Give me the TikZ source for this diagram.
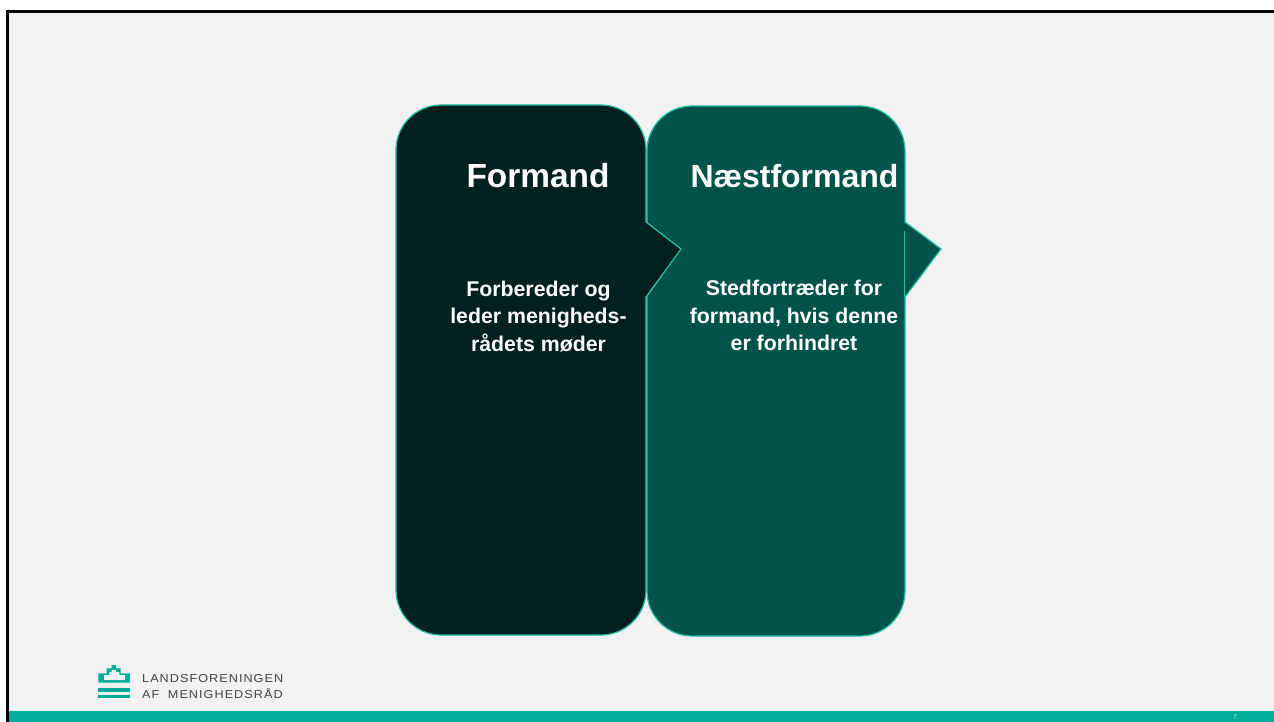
\documentclass[tikz,border=0pt]{standalone}
\usepackage{fontspec}
\setmainfont{Liberation Sans}
\newfontfamily\logofont[LetterSpace=9,FakeStretch=1.1]{Liberation Sans}
\definecolor{pagebg}{HTML}{F2F2F2}
\definecolor{teal}{HTML}{00AB97}
\definecolor{darkbox}{HTML}{01211E}
\definecolor{midbox}{HTML}{015249}
\definecolor{edgeline}{HTML}{1FBFA8}
\definecolor{logotext}{HTML}{404040}
\tikzset{
  titletext/.style={text=white,font=\bfseries\fontsize{32}{36}\selectfont,inner sep=0pt},
  bodytext/.style={text=white,font=\bfseries\fontsize{21.3}{27.5}\selectfont,align=center,inner sep=0pt},
  boxedge/.style={draw=edgeline,line width=1.2pt},
  logotxt/.style={text=logotext,font=\logofont\fontsize{11.5}{14}\selectfont,anchor=west,inner sep=0pt}
}
\begin{document}
\begin{tikzpicture}[x=1pt,y=-1pt]
\useasboundingbox (0,0) rectangle (1274,722);
\fill[white] (0,0) rectangle (1274,722);
\fill[pagebg] (7,11) rectangle (1274,722);
\draw[black,line width=2.7pt] (7.5,722) -- (7.5,11.3) -- (1274,11.3);
\fill[teal] (8.5,711) rectangle (1274,722);
% left box
\fill[darkbox] (396,150) arc[start angle=180,end angle=270,x radius=45,y radius=45] -- (601,105) arc[start angle=270,end angle=360,x radius=45,y radius=45] -- (646,222) -- (681,249) -- (646,297) -- (646,590) arc[start angle=0,end angle=90,x radius=45,y radius=45] -- (441,635) arc[start angle=90,end angle=180,x radius=45,y radius=45] -- cycle;
% right box
\fill[midbox] (647,151) arc[start angle=180,end angle=270,x radius=45,y radius=45] -- (860,106) arc[start angle=270,end angle=360,x radius=45,y radius=45] -- (905,222) -- (941,249) -- (905,297) -- (905,591) arc[start angle=0,end angle=90,x radius=45,y radius=45] -- (692,636) arc[start angle=90,end angle=180,x radius=45,y radius=45] -- (647,297) -- (681,249) -- (647,222) -- cycle;
\draw[boxedge] (646,222) -- (681,249) -- (646,297) -- (646,590) arc[start angle=0,end angle=90,x radius=45,y radius=45] -- (441,635) arc[start angle=90,end angle=180,x radius=45,y radius=45] -- (396,150) arc[start angle=180,end angle=270,x radius=45,y radius=45] -- (601,105) arc[start angle=270,end angle=360,x radius=45,y radius=45] -- cycle;
\draw[boxedge] (647,222) -- (647,151) arc[start angle=180,end angle=270,x radius=45,y radius=45] -- (860,106) arc[start angle=270,end angle=360,x radius=45,y radius=45] -- (905,222) -- (941,249) -- (905,297) -- (905,591) arc[start angle=0,end angle=90,x radius=45,y radius=45] -- (692,636) arc[start angle=90,end angle=180,x radius=45,y radius=45] -- (647,297);
\draw[boxedge] (904.5,231) -- (904.5,297);
\node[titletext,font=\bfseries\fontsize{33.4}{36}\selectfont] (formand) at (538,176) {Formand};
\node[titletext] (naest) at (794.5,176) {Næstformand};
\node[bodytext] (fbody) at (538.5,316.5) {Forbereder og\\leder menigheds-\\rådets møder};
\node[bodytext] (nbody) at (794,315.5) {Stedfortræder for\\formand, hvis denne\\er forhindret};
% logo
\fill[teal] (98.3,673.3) -- (106.7,673.3) -- (106.7,668.3) -- (111.7,668.3) -- (111.7,665) -- (116,665) -- (116,668.3) -- (120.7,668.3) -- (120.7,673.3) -- (130,673.3) -- (130,682.7) -- (98.3,682.7) -- cycle;
\fill[pagebg] (104,680) -- (104,675) -- (109.3,675) -- (109.3,672) -- (111.7,672) -- (111.7,670) -- (116,670) -- (116,672) -- (119.3,672) -- (119.3,675) -- (125,675) -- (125,680) -- cycle;
\fill[teal] (98.3,688) rectangle (130,692);
\fill[teal] (98.3,694.5) rectangle (130,698);
\node[logotxt] (l1) at (142,679) {LANDSFORENINGEN};
\node[logotxt] (l2) at (142,693.5) {AF\hspace{4pt} MENIGHEDSRÅD};
\node[text=white!70!teal,font=\fontsize{7}{8}\selectfont,inner sep=0pt] (pg) at (1236,717) {7.};
\end{tikzpicture}
\end{document}
